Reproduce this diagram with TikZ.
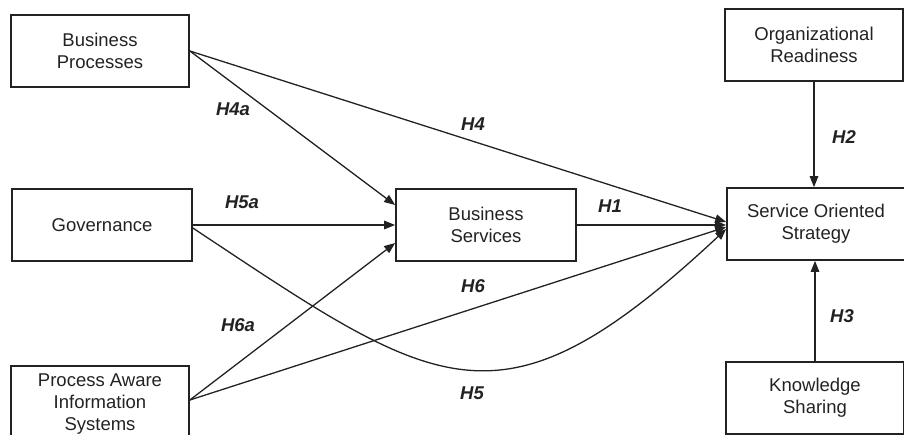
\documentclass[tikz,border=0pt]{standalone}
\usepackage{fontspec}
\setmainfont{Liberation Sans}
\usetikzlibrary{arrows.meta,calc}
\definecolor{ink}{HTML}{222222}
\begin{document}
\begin{tikzpicture}[x=1pt,y=-1pt,
  box/.style={draw=ink,line width=1.7pt,minimum width=178pt,minimum height=72pt,
    align=center,font=\fontsize{18.5}{22}\selectfont,text=ink,inner sep=0pt},
  link/.style={draw=ink,line width=1.3pt,-{Triangle[length=11pt,width=8.5pt]}},
  hyp/.style={font=\fontsize{18.5}{22}\selectfont\bfseries\itshape,text=ink,inner sep=0pt}]
\useasboundingbox (0,0) rectangle (904,434);
% boxes
\node[box] (bp) at (100,51) {Business\\Processes};
\node[box,minimum width=180pt] (gov) at (102,225) {Governance};
\node[box,minimum height=76pt] (pais) at (100,404) {Process Aware\\Information\\Systems};
\node[box,minimum width=180pt] (bs) at (486,225) {Business\\Services};
\node[box] (sos) at (816,224) {Service Oriented\\Strategy};
\node[box] (or) at (814,45) {Organizational\\Readiness};
\node[box] (ks) at (815,398) {Knowledge\\Sharing};
% anchor points
\coordinate (s4) at ([yshift=2pt]sos.west);
\coordinate (s1) at ([yshift=-1pt]sos.west);
\coordinate (s6) at ([yshift=-3pt]sos.west);
\coordinate (s5) at ([yshift=-5pt]sos.west);
\coordinate (b4) at ([yshift=20pt]bs.west);
\coordinate (b6) at ([yshift=-18pt]bs.west);
\coordinate (p0) at ([yshift=4pt]pais.east);
\coordinate (g0) at ([yshift=-3pt]gov.east);
% connectors
\draw[link] (bp.east) -- (s4);
\draw[link] (bp.east) -- (b4);
\draw[link] (gov.east) -- (bs.west);
\draw[link] (g0) .. controls (440,392) and (500,440) .. (s5);
\draw[link] (p0) -- (b6);
\draw[link] (p0) -- (s6);
\draw[link] (bs.east) -- (s1);
\draw[link] (or.south) -- (sos.north -| or.south);
\draw[link] (ks.north) -- (sos.south -| ks.north);
% labels
\node[hyp] (l4a) at (233,109) {H4a};
\node[hyp] (l4) at (473,124) {H4};
\node[hyp] (l5a) at (242,202) {H5a};
\node[hyp] (l1) at (610,206) {H1};
\node[hyp] (l2) at (844,137) {H2};
\node[hyp] (l6) at (473,286) {H6};
\node[hyp] (l6a) at (238,325) {H6a};
\node[hyp] (l3) at (842,316) {H3};
\node[hyp] (l5) at (472,393) {H5};
\end{tikzpicture}
\end{document}
